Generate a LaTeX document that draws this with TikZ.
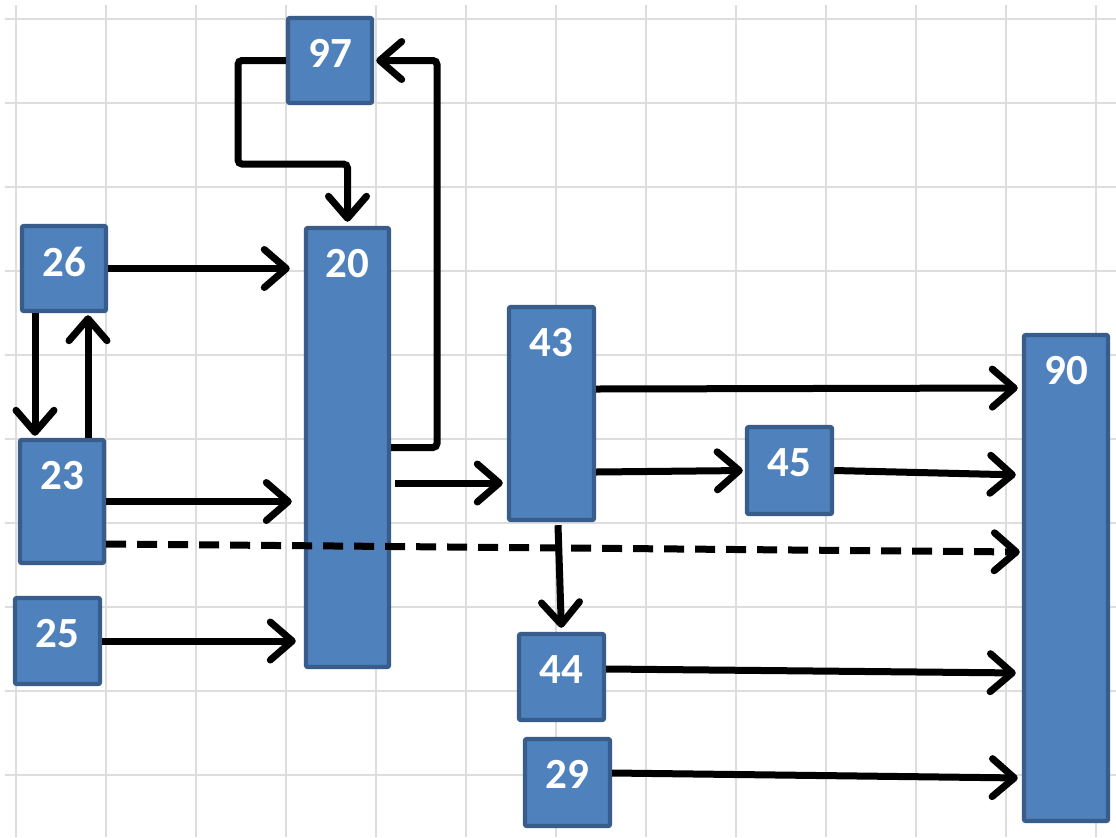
\documentclass[tikz,border=0pt]{standalone}
\usepackage{fontspec}
\setmainfont{Carlito}
\usetikzlibrary{arrows.meta,calc}
\definecolor{boxfill}{HTML}{4F81BD}
\definecolor{boxline}{HTML}{385D8A}
\definecolor{gridc}{HTML}{DDDDDD}
\tikzset{
  blk/.style={draw=boxline, fill=boxfill, line width=2.2pt, rounded corners=1pt, inner sep=0pt},
  lbl/.style={text=white, font=\fontsize{21.5}{25}\selectfont\bfseries, anchor=center, yshift=-19pt},
  arr/.style={line width=3.5pt, -{Straight Barb[length=11pt,width=19pt,line join=round,line cap=round]}},
  dsh/.style={arr, dash pattern=on 10pt off 5.5pt},
  gridline/.style={draw=gridc, line width=1pt}
}
\begin{document}
\begin{tikzpicture}[x=0.5pt,y=-0.5pt]
\useasboundingbox (0,0) rectangle (1116,837);
\fill[white] (0,0) rectangle (1116,837);
% grid
\foreach \k in {0,...,12} { \draw[gridline] ({16+90*\k},5) -- ({16+90*\k},837); }
\foreach \k in {0,...,9} { \draw[gridline] (5,{19+84*\k}) -- (1116,{19+84*\k}); }
% boxes
\node[blk, minimum width=42pt, minimum height=42.5pt, label={[lbl]north:97}] (n97) at (330,60.5) {};
\node[blk, minimum width=42pt, minimum height=42.5pt, label={[lbl]north:26}] (n26) at (64,268.5) {};
\node[blk, minimum width=41.5pt, minimum height=219.5pt, label={[lbl]north:20}] (n20) at (347.5,447.5) {};
\node[blk, minimum width=42pt, minimum height=61.5pt, label={[lbl]north:23}] (n23) at (62,501.5) {};
\node[blk, minimum width=42.5pt, minimum height=43pt, label={[lbl]north:25}] (n25) at (57.5,641) {};
\node[blk, minimum width=42.5pt, minimum height=106.5pt, label={[lbl]north:43}] (n43) at (551.5,413.5) {};
\node[blk, minimum width=42.5pt, minimum height=43.5pt, label={[lbl]north:45}] (n45) at (789.5,470.5) {};
\node[blk, minimum width=42pt, minimum height=243pt, label={[lbl]north:90}] (n90) at (1066,578) {};
\node[blk, minimum width=42.5pt, minimum height=43pt, label={[lbl]north:44}] (n44) at (561.5,677) {};
\node[blk, minimum width=42.5pt, minimum height=43.5pt, label={[lbl]north:29}] (n29) at (567.5,782.5) {};
% helper coordinates
\coordinate (k1) at (238,164);
\coordinate (k2) at (437,60.5);
% connectors
\draw[arr, rounded corners=2pt, shorten >=2pt] (n97.west) -| (k1) -| (n20.north);
\draw[arr, rounded corners=2pt, shorten >=1pt] (n20.east) -| (k2) -- (n97.east);
\draw[arr, shorten >=7pt] (n26.east) -- (n26.east -| n20.west);
\draw[arr, shorten >=1pt] ($(n26.south)+(-29,0)$) coordinate (a) -- (a |- n23.north);
\draw[arr, shorten >=1pt] ($(n23.north)+(26,0)$) coordinate (b) -- (b |- n26.south);
\draw[arr, shorten >=6pt] (n23.east) -- (n23.east -| n20.west);
\draw[dsh, shorten >=1pt] ($(n23.east)+(0,42.5)$) -- ($(n90.west)+(0,-26)$);
\draw[arr, shorten >=4pt] (n25.east) -- (n25.east -| n20.west);
\draw[arr, shorten >=2pt] ($(n20.east)+(4,35.5)$) coordinate (c) -- (c -| n43.west);
\draw[arr, shorten >=2pt] ($(n43.east)+(0,-24.5)$) -- ($(n90.west)+(0,-190)$);
\draw[arr, shorten >=1pt] ($(n43.east)+(0,58.5)$) -- (n45.west);
\draw[arr, shorten >=3pt] (n45.east) -- ($(n90.west)+(0,-103)$);
\draw[arr, shorten >=2pt] ($(n43.south)+(6.5,3)$) -- (n44.north);
\draw[arr, shorten >=3pt] ($(n44.east)+(0,-8)$) -- ($(n90.west)+(0,95)$);
\draw[arr, shorten >=2pt] ($(n29.east)+(0,-9.5)$) -- ($(n90.west)+(0,200)$);
\end{tikzpicture}
\end{document}
